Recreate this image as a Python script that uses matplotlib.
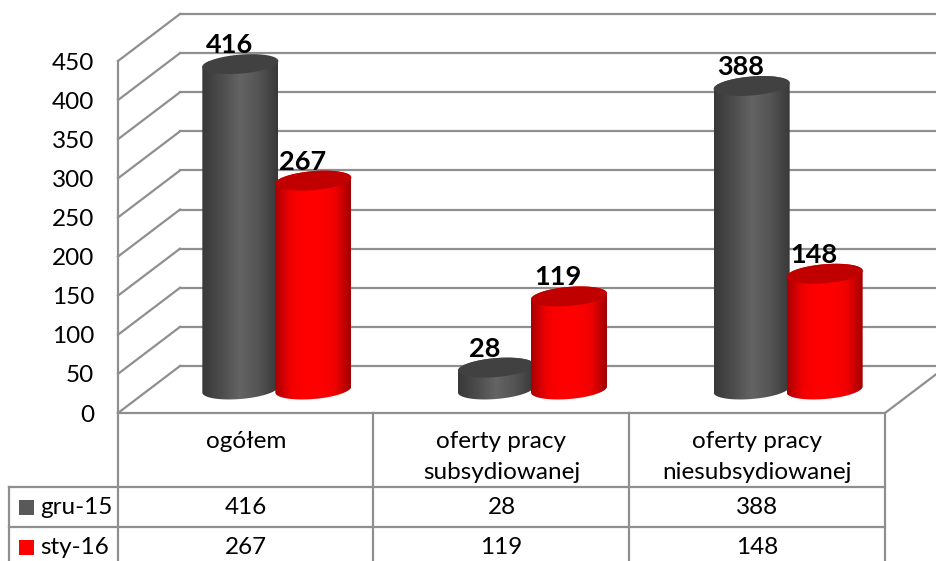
import numpy as np
import matplotlib
matplotlib.use("Agg")
import matplotlib.pyplot as plt
from matplotlib.colors import LinearSegmentedColormap
from matplotlib.patches import Polygon, Rectangle

categories = ["ogółem", "oferty pracy\nsubsydiowanej", "oferty pracy\nniesubsydiowanej"]
series_names = ["gru-15", "sty-16"]
gru_15 = [416, 28, 388]
sty_16 = [267, 119, 148]
y_ticks = [0, 50, 100, 150, 200, 250, 300, 350, 400, 450]

W, H = 936, 561
plt.rcParams["font.family"] = ["Lato", "DejaVu Sans"]
fig = plt.figure(figsize=(W / 100, H / 100), dpi=100)
L, R, B, T = 118, 885, 413, 61
ax = fig.add_axes([L / W, (H - B) / H, (R - L) / W, (B - T) / H])
XLIM, YLIM = (0, 3), (0, 450)
GRID = "#8f8f8f"
LW = 1.6
FS = 17.5
TXT = "#000000"

def X(px):
    return (px - L) / (R - L) * 3

def Y(py):
    return (B - py) / (B - T) * 450

DX = X(L + 62)
DY = Y(B - 47)

# walls and floor
for v in y_ticks:
    ax.plot([0, DX], [v, v + DY], color=GRID, lw=LW, clip_on=False, zorder=1)
    ax.plot([DX, 3 + DX], [v + DY, v + DY], color=GRID, lw=LW, clip_on=False, zorder=1)
ax.plot([3, 3 + DX], [0, DY], color=GRID, lw=LW, clip_on=False, zorder=1)
ax.plot([0, 0], [0, 450], color=GRID, lw=LW, clip_on=False, zorder=1)
ax.plot([0, 3], [0, 0], color=GRID, lw=LW, clip_on=False, zorder=1)

# cylinders
gray_map = LinearSegmentedColormap.from_list("g", ["#383838", "#4c4c4c", "#646464", "#545454", "#383838"])
red_map = LinearSegmentedColormap.from_list("r", ["#a80000", "#f00000", "#ff0000", "#ff0000", "#ee0000", "#a00000"])
HALF_W = X(L + 38)
BAR_SHIFT = X(L + 36.5)
RY = Y(B - 9.5)
SKEW = Y(B - 3)

def cylinder(xc, v, cmap, top_color, z):
    t = np.linspace(0, 2 * np.pi, 160)
    base = DY / 2
    ex = xc + HALF_W * np.cos(t)
    ey_skew = SKEW * np.cos(t) + RY * np.sin(t)
    lower = np.linspace(np.pi, 2 * np.pi, 80)
    lx = xc + HALF_W * np.cos(lower)
    ly = base + SKEW * np.cos(lower) + RY * np.sin(lower)
    upper = np.linspace(0, np.pi, 80)
    ux = xc + HALF_W * np.cos(upper)
    uy = base + v + SKEW * np.cos(upper) + RY * np.sin(upper)
    body = Polygon(np.column_stack([np.r_[lx, ux], np.r_[ly, uy]]), closed=True,
                   transform=ax.transData, facecolor="none", edgecolor="none")
    ax.add_patch(body)
    grad = np.linspace(0, 1, 256).reshape(1, -1)
    im = ax.imshow(grad, cmap=cmap, aspect="auto", zorder=z,
                   extent=(xc - HALF_W, xc + HALF_W, base - 2 * RY, base + v + 2 * RY))
    im.set_clip_path(body)
    ax.fill(ex, base + v + ey_skew, color=top_color, lw=0, zorder=z + 0.1, clip_on=False)

for i, (a, b) in enumerate(zip(gru_15, sty_16)):
    group = i + 0.5 + DX / 2
    cylinder(group - BAR_SHIFT, a, gray_map, "#414141", 3 + i)
    cylinder(group + BAR_SHIFT, b, red_map, "#c00000", 3.5 + i)
    for off, val in ((-BAR_SHIFT, a), (BAR_SHIFT, b)):
        ax.text(group + off - X(L + 11), DY / 2 + val + Y(B - 19), str(val),
                ha="center", va="center", fontsize=19.5, fontweight="bold",
                color="black", zorder=10, clip_on=False)

# axis
ax.set_xlim(XLIM)
ax.set_ylim(YLIM)
ax.set_xticks([])
ax.set_yticks(y_ticks)
ax.tick_params(axis="y", length=0, pad=17, labelsize=FS, labelcolor=TXT)
for s in ax.spines.values():
    s.set_visible(False)
ax.patch.set_alpha(0)

# data table
row_lines = [487, 527]
col_x = [118, 373, 629, 885]
for px in col_x:
    ax.plot([X(px), X(px)], [Y(413), Y(561)], color=GRID, lw=LW, clip_on=False, zorder=1)
ax.plot([X(9), X(9)], [Y(487), Y(561)], color=GRID, lw=LW, clip_on=False, zorder=1)
for py in row_lines:
    ax.plot([X(9), X(885)], [Y(py), Y(py)], color=GRID, lw=LW, clip_on=False, zorder=1)

for i, cat in enumerate(categories):
    py = 457 if "\n" in cat else 441
    ax.text(i + 0.5, Y(py), cat, ha="center", va="center", fontsize=FS, color=TXT,
            linespacing=1.6, clip_on=False)

rows = [(series_names[0], gru_15, "#595959", 507), (series_names[1], sty_16, "#ff0000", 547)]
for name, vals, col, py in rows:
    ax.add_patch(Rectangle((X(19), Y(py + 7.5)), X(L + 15), Y(B - 15), facecolor=col,
                           edgecolor="none", clip_on=False, zorder=2))
    ax.text(X(40), Y(py), name, ha="left", va="center", fontsize=FS, color=TXT, clip_on=False)
    for i, v in enumerate(vals):
        ax.text(i + 0.5, Y(py), str(v), ha="center", va="center", fontsize=FS, color=TXT, clip_on=False)

fig.savefig("out.png", dpi=100)
